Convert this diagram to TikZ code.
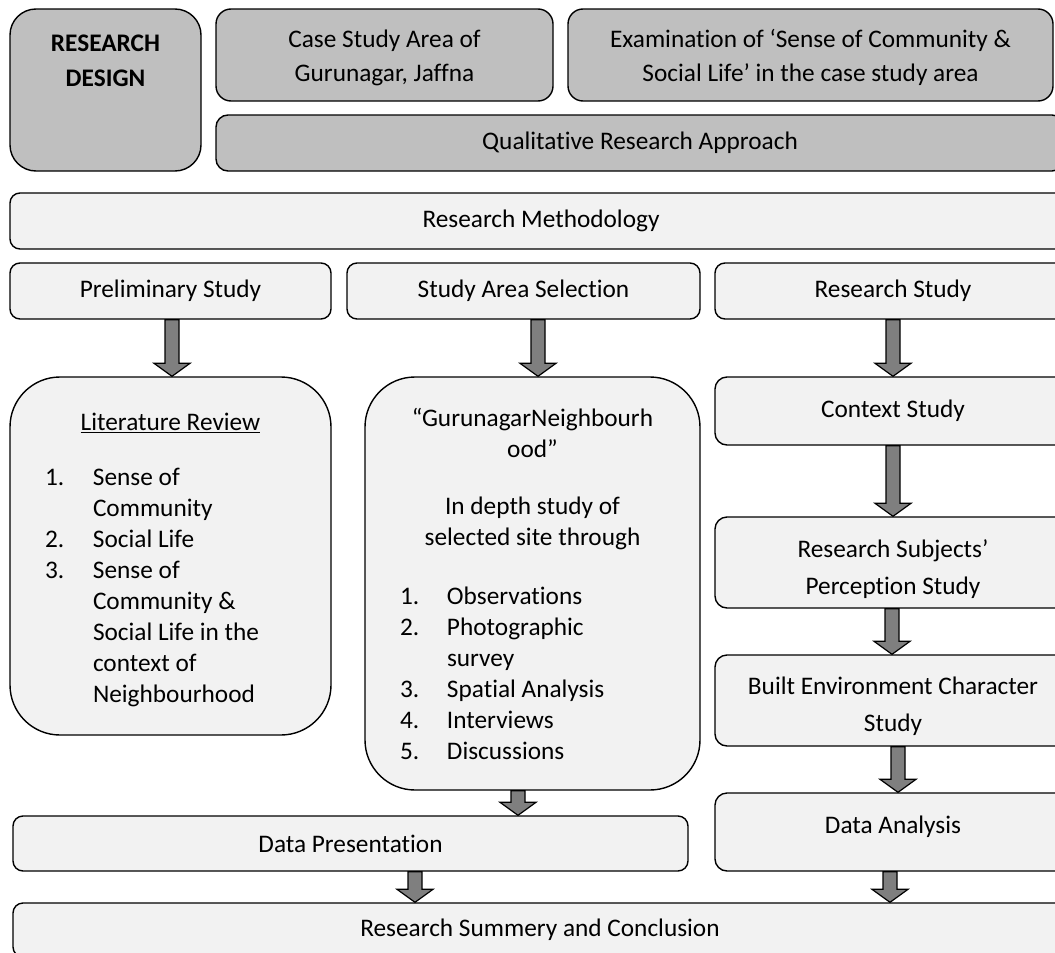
\documentclass[tikz,border=0pt]{standalone}
\usepackage{fontspec}
\setmainfont{Carlito}[Ligatures=NoCommon]
\usetikzlibrary{calc}

\definecolor{darkfill}{HTML}{BFBFBF}
\definecolor{palefill}{HTML}{F2F2F2}
\definecolor{arrowfill}{HTML}{7F7F7F}

\tikzset{
  box/.style={draw, line width=1.4pt, rounded corners=12pt, inner sep=0pt, align=flush center},
  greybox/.style={box, fill=darkfill},
  palebox/.style={box, fill=palefill},
  bigarrow/.style={draw, line width=1.2pt, fill=arrowfill, line join=miter},
}
\newcommand{\basefont}{\fontsize{25.3}{31}\selectfont}
\newcommand{\topfont}{\fontsize{25.3}{34}\selectfont}
\newcommand{\sidefont}{\fontsize{25.3}{37}\selectfont}
% lines set a bit lower in their box (space before the paragraph)
\newcommand{\lowerlines}[2]{\raisebox{-#1}[\height][\depth]{\begin{tabular}{@{}c@{}}#2\end{tabular}}}

% block arrow from one box down to the next, #3 = x of the shaft
\newcommand{\flowarrow}[3]{%
  \draw[bigarrow] let \p1=(#1.south), \p2=(#2.north) in
    ({#3pt-7pt},\y1) -- ({#3pt-7pt},\y2+13pt) -- ({#3pt-18pt},\y2+13pt) --
    ({#3pt},\y2) -- ({#3pt+18pt},\y2+13pt) -- ({#3pt+7pt},\y2+13pt) --
    ({#3pt+7pt},\y1) -- cycle;
}

\begin{document}
\begin{tikzpicture}[x=1pt, y=-1pt, font=\basefont]
  \useasboundingbox (0,0) rectangle (1055,953);
  \clip (0,0) rectangle (1055,953);

  % research design
  \node[greybox, rounded corners=26pt, minimum width=191pt, minimum height=162pt] (design) at (105.5,90)
    {\parbox[c][150pt][t]{180pt}{\fontsize{25.3}{35}\selectfont\centering\bfseries\vspace*{20pt}RESEARCH\\DESIGN}};
  \node[greybox, rounded corners=15pt, minimum width=337pt, minimum height=92pt, font=\topfont] (casearea) at (384.5,55)
    {\lowerlines{3pt}{Case Study Area of\\Gurunagar, Jaffna}};
  \node[greybox, rounded corners=15pt, minimum width=485pt, minimum height=92pt, font=\topfont] (examination) at (810.5,55)
    {\lowerlines{3pt}{Examination of ‘Sense of Community \&\\Social Life’ in the case study area}};
  \node[greybox, minimum width=848pt, minimum height=56pt] (approach) at (640,143) {Qualitative Research Approach};

  % methodology
  \node[palebox, rounded corners=10pt, minimum width=1062pt, minimum height=56pt] (method) at (541,221) {Research Methodology};
  \node[palebox, rounded corners=10pt, minimum width=321pt, minimum height=56pt] (prelim) at (170.5,291) {Preliminary Study};
  \node[palebox, rounded corners=10pt, minimum width=353pt, minimum height=56pt] (studyarea) at (523.5,291) {Study Area Selection};
  \node[palebox, rounded corners=10pt, minimum width=356pt, minimum height=56pt] (resstudy) at (893,291) {Research Study};

  \node[palebox, rounded corners=50pt, minimum width=321pt, minimum height=358pt, text width=251pt, align=flush left] (litreview) at (170.5,556)
    {{\centering\raisebox{0pt}[\dimexpr\height+8pt\relax]{\underline{Literature Review}}\par}\vspace{24pt}
     \makebox[48pt][l]{1.}Sense of\\
     \hspace*{48pt}Community\\
     \makebox[48pt][l]{2.}Social Life\\
     \makebox[48pt][l]{3.}Sense of\\
     \hspace*{48pt}Community \&\\
     \hspace*{48pt}Social Life in the\\
     \hspace*{48pt}context of\\
     \hspace*{48pt}Neighbourhood};
  \node[palebox, rounded corners=50pt, minimum width=335pt, minimum height=413pt, text width=265pt, align=flush left] (gurunagar) at (532.5,583.5)
    {{\centering “GurunagarNeighbourh\\ood”\\[26pt]In depth study of\\selected site through\par}\vspace{28pt}
     \makebox[47pt][l]{1.}Observations\\
     \makebox[47pt][l]{2.}Photographic\\
     \hspace*{47pt}survey\\
     \makebox[47pt][l]{3.}Spatial Analysis\\
     \makebox[47pt][l]{4.}Interviews\\
     \makebox[47pt][l]{5.}Discussions};

  % right column
  \node[palebox, minimum width=356pt, minimum height=68pt] (context) at (893,411) {Context Study};
  \node[palebox, minimum width=356pt, minimum height=91pt, font=\sidefont] (subjects) at (893,562.5)
    {\lowerlines{6pt}{Research Subjects’\\Perception Study}};
  \node[palebox, minimum width=356pt, minimum height=91pt, font=\sidefont] (builtenv) at (893,700.5)
    {\lowerlines{5pt}{Built Environment Character\\Study}};
  \node[palebox, minimum width=356pt, minimum height=78pt, text depth=15pt] (dataanalysis) at (893,832) {Data Analysis};

  \node[palebox, rounded corners=10pt, minimum width=675pt, minimum height=55pt] (datapres) at (350.5,843.5) {Data Presentation};
  \node[palebox, rounded corners=10pt, minimum width=1054pt, minimum height=54pt] (summary) at (540,930) {Research Summery and Conclusion};

  \flowarrow{prelim}{litreview}{172}
  \flowarrow{studyarea}{gurunagar}{538}
  \flowarrow{resstudy}{context}{893}
  \flowarrow{context}{subjects}{893}
  \flowarrow{subjects}{builtenv}{892}
  \flowarrow{builtenv}{dataanalysis}{898}
  \flowarrow{gurunagar}{datapres}{518}
  \flowarrow{datapres}{summary}{415}
  \flowarrow{dataanalysis}{summary}{890}
\end{tikzpicture}
\end{document}
